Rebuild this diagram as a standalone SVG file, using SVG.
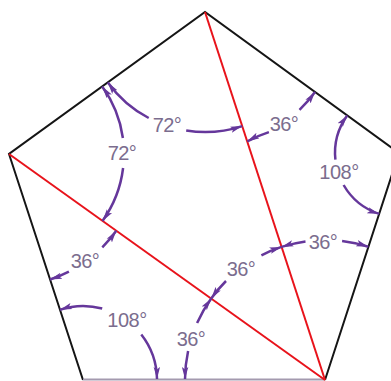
<svg xmlns="http://www.w3.org/2000/svg" width="391" height="381" viewBox="0 0 391 381">
<defs>
<marker id="ah" markerUnits="userSpaceOnUse" markerWidth="13" markerHeight="8" refX="12" refY="4" orient="auto">
<path d="M0,0.8 L12,4 L0,7.2 L2.5,4 z" fill="#65379b"/>
</marker>
<style>
.edge{stroke:#151515;stroke-width:2;fill:none;stroke-linejoin:miter}
.base{stroke:#a49aaf;stroke-width:2;fill:none}
.red{stroke:#e8131b;stroke-width:2;fill:none}
.arc{stroke:#65379b;stroke-width:2.5;fill:none;marker-end:url(#ah)}
.lbl{font-family:"Liberation Sans",Arial,sans-serif;font-size:20px;fill:#7b6d8e;text-anchor:middle;letter-spacing:-0.5px}
</style>
</defs>
<rect width="391" height="381" fill="#ffffff"/>
<g id="pentagon">
<polyline class="edge" points="83,380 9,154 205,12 399,153 325,380"/>
<line class="base" x1="83" y1="379.5" x2="325" y2="379.5"/>
</g>
<g id="diagonals">
<line class="red" x1="205" y1="12" x2="325" y2="380"/>
<line class="red" x1="9" y1="154" x2="325" y2="380"/>
</g>
<g id="connectors">
<path class="arc" d="M148.7,118 A120,120 0 0 1 107.8,82.4"/>
<path class="arc" d="M186.2,130.5 A120,120 0 0 0 242.3,126.1"/>
<path class="arc" d="M268.9,132.1 A136,136 0 0 0 247.3,141.3"/>
<path class="arc" d="M299.5,109.8 A136,136 0 0 0 315,91.9"/>
<path class="arc" d="M122.9,138 A115,115 0 0 0 102.2,86.6"/>
<path class="arc" d="M123.1,168 A115,115 0 0 1 102.5,220.9"/>
<path class="arc" d="M102.3,247.3 A132,132 0 0 0 116.3,230.8"/>
<path class="arc" d="M68.9,271.6 A132,132 0 0 1 50,279.5"/>
<path class="arc" d="M102.2,308.5 A74,74 0 0 0 60,309.7"/>
<path class="arc" d="M141.3,334.4 A74,74 0 0 1 157,379"/>
<path class="arc" d="M188.1,350.9 A140,140 0 0 0 185,379"/>
<path class="arc" d="M197.1,323.1 A140,140 0 0 1 211.2,298.5"/>
<path class="arc" d="M226,281 A140,140 0 0 0 211.2,298.5"/>
<path class="arc" d="M261.4,255.3 A140,140 0 0 1 281.5,246.9"/>
<path class="arc" d="M305.5,241.4 A140,140 0 0 0 281.5,246.9"/>
<path class="arc" d="M342.1,241 A140,140 0 0 1 368.3,246.8"/>
<path class="arc" d="M335.4,159.7 A64,64 0 0 1 347.2,115.4"/>
<path class="arc" d="M343.6,185 A64,64 0 0 0 379.2,213.9"/>
</g>
<g id="labels">
<text class="lbl" x="167" y="132">72°</text>
<text class="lbl" x="284" y="131">36°</text>
<text class="lbl" x="122" y="160">72°</text>
<text class="lbl" x="339" y="179">108°</text>
<text class="lbl" x="323" y="249">36°</text>
<text class="lbl" x="241" y="276">36°</text>
<text class="lbl" x="85" y="268">36°</text>
<text class="lbl" x="127" y="327">108°</text>
<text class="lbl" x="191" y="346">36°</text>
</g>
</svg>
